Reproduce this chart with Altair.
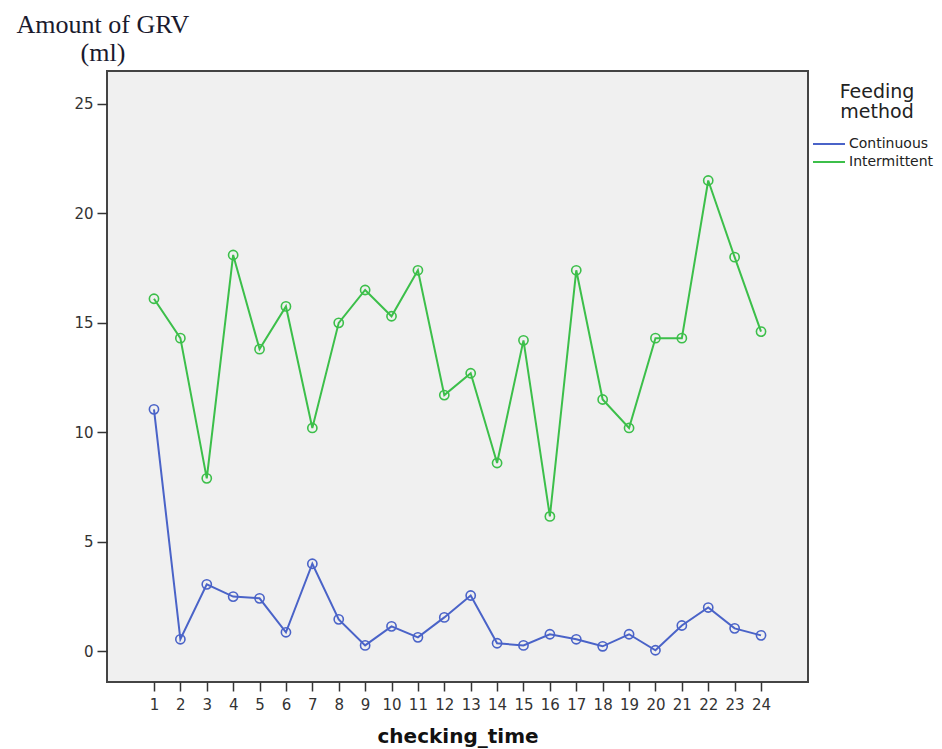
import altair as alt
import pandas as pd

checking_time = list(range(1, 25))
continuous = [11.05, 0.55, 3.06, 2.5, 2.42, 0.87, 4.0, 1.46, 0.27, 1.14, 0.64, 1.55,
              2.55, 0.37, 0.27, 0.78, 0.55, 0.23, 0.78, 0.05, 1.18, 2.0, 1.05, 0.73]
intermittent = [16.1, 14.3, 7.9, 18.1, 13.8, 15.75, 10.2, 15.0, 16.5, 15.3, 17.4, 11.7,
                12.7, 8.6, 14.2, 6.16, 17.4, 11.5, 10.2, 14.3, 14.3, 21.5, 18.0, 14.6]
methods = ["Continuous", "Intermittent"]
colors = ["#4a63c8", "#3cbf4a"]

rows = []
for t, c, i in zip(checking_time, continuous, intermittent):
    rows.append({"checking_time": t, "GRV": c, "method": "Continuous"})
    rows.append({"checking_time": t, "GRV": i, "method": "Intermittent"})
df = pd.DataFrame(rows)

sans = "DejaVu Sans"

x = alt.X("checking_time:Q",
          scale=alt.Scale(domain=[-0.78, 25.78], nice=False, zero=False),
          axis=alt.Axis(values=checking_time, title="checking_time", grid=False,
                        domain=False, tickSize=9, tickColor="#333", tickWidth=1.5,
                        labelFontSize=15, labelFont=sans, labelColor="#333",
                        labelPadding=6, labelFlush=False, labelOverlap=False,
                        titleFont=sans, titleFontSize=20, titleFontWeight="bold",
                        titleColor="#111", titlePadding=14))
y = alt.Y("GRV:Q",
          scale=alt.Scale(domain=[-1.4, 26.5], nice=False, zero=False),
          axis=alt.Axis(values=[0, 5, 10, 15, 20, 25], title=None, grid=False,
                        domain=False, tickSize=10, tickColor="#333", tickWidth=1.5,
                        labelFontSize=15, labelFont=sans, labelColor="#333",
                        labelPadding=4))
color = alt.Color("method:N",
                  scale=alt.Scale(domain=methods, range=colors),
                  legend=alt.Legend(title=["Feeding", "method"], orient="none",
                                    legendX=713, legendY=12,
                                    symbolType="M-2,0L2,0", symbolSize=256,
                                    symbolStrokeWidth=2,
                                    titleFont=sans, titleFontSize=19,
                                    titleFontWeight="normal", titleColor="#222",
                                    titleLineHeight=20, titleAnchor="middle",
                                    titleAlign="center", titlePadding=13,
                                    labelFont=sans, labelFontSize=14,
                                    labelColor="#222", labelOffset=11,
                                    rowPadding=2))

lines = alt.Chart(df).mark_line(strokeWidth=2).encode(x=x, y=y, color=color)
points = alt.Chart(df).mark_point(filled=False, size=85, strokeWidth=1.6, opacity=1).encode(
    x=x, y=y, color=alt.Color("method:N", scale=alt.Scale(domain=methods, range=colors), legend=None))

chart = (lines + points).properties(
    width=701, height=611,
    title=alt.TitleParams(text=["Amount of GRV", "(ml)"], anchor="start", align="center",
                          dx=29, offset=5, font="Liberation Serif", fontSize=26,
                          fontWeight="normal", color="#1a1a2e", lineHeight=28),
    autosize=alt.AutoSizeParams(type="none"),
    padding={"left": 99, "top": 63, "right": 126, "bottom": 67},
).configure_view(fill="#f0f0f0", stroke="#444", strokeWidth=2)

chart.save("out.html", embed_options={"renderer": "svg", "actions": False})
